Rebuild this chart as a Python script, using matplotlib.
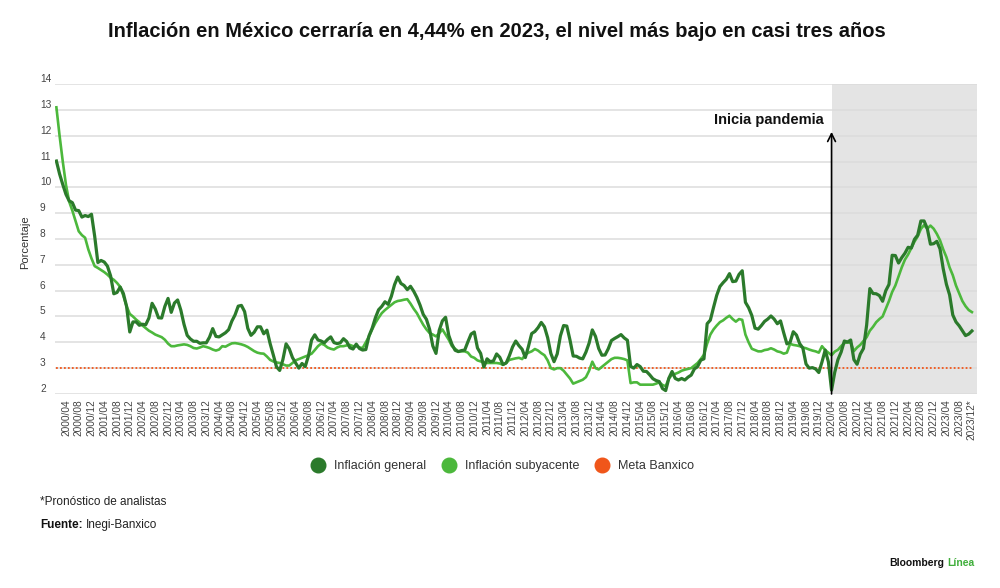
import numpy as np
import pandas as pd
import matplotlib.pyplot as plt
from matplotlib.lines import Line2D

plt.rcParams['font.family'] = ['Liberation Sans', 'DejaVu Sans']

# inflación general anual (%), mensual 2000/01 - 2023/12
general = [
    11.02, 10.52, 10.11, 9.73, 9.48, 9.41, 9.12, 9.10, 8.85, 8.91, 8.87, 8.96,
    8.11, 7.09, 7.17, 7.11, 6.95, 6.57, 5.88, 5.93, 6.14, 5.89, 5.39, 4.40,
    4.79, 4.79, 4.66, 4.70, 4.68, 4.94, 5.51, 5.29, 4.95, 4.94, 5.39, 5.70,
    5.16, 5.52, 5.64, 5.25, 4.70, 4.27, 4.13, 4.04, 4.04, 3.96, 3.98, 3.98,
    4.20, 4.53, 4.23, 4.21, 4.29, 4.37, 4.49, 4.82, 5.06, 5.40, 5.43, 5.19,
    4.54, 4.27, 4.39, 4.60, 4.60, 4.33, 4.47, 3.95, 3.51, 3.05, 2.91, 3.33,
    3.94, 3.75, 3.41, 3.20, 3.00, 3.18, 3.06, 3.47, 4.09, 4.29, 4.09, 4.05,
    3.98, 4.11, 4.21, 3.99, 3.95, 3.98, 4.14, 4.03, 3.79, 3.74, 3.93, 3.76,
    3.70, 3.72, 4.25, 4.55, 4.95, 5.26, 5.39, 5.57, 5.47, 5.78, 6.23, 6.53,
    6.28, 6.20, 6.04, 6.17, 5.98, 5.74, 5.44, 5.08, 4.89, 4.50, 3.86, 3.57,
    4.46, 4.83, 4.97, 4.27, 3.92, 3.69, 3.64, 3.68, 3.70, 4.02, 4.32, 4.40,
    3.78, 3.57, 3.04, 3.36, 3.25, 3.28, 3.55, 3.42, 3.14, 3.20, 3.48, 3.82,
    4.05, 3.87, 3.73, 3.41, 3.85, 4.34, 4.42, 4.57, 4.77, 4.60, 4.18, 3.57,
    3.25, 3.55, 4.25, 4.65, 4.63, 4.09, 3.47, 3.46, 3.39, 3.36, 3.62, 3.97,
    4.48, 4.23, 3.76, 3.50, 3.51, 3.75, 4.07, 4.15, 4.22, 4.30, 4.17, 4.08,
    3.07, 3.00, 3.14, 3.06, 2.88, 2.87, 2.74, 2.59, 2.52, 2.48, 2.21, 2.13,
    2.61, 2.87, 2.60, 2.54, 2.60, 2.54, 2.65, 2.73, 2.97, 3.06, 3.31, 3.36,
    4.72, 4.86, 5.35, 5.82, 6.16, 6.31, 6.44, 6.66, 6.35, 6.37, 6.63, 6.77,
    5.55, 5.34, 5.04, 4.55, 4.51, 4.65, 4.81, 4.90, 5.02, 4.90, 4.72, 4.83,
    4.37, 3.94, 4.00, 4.41, 4.28, 3.95, 3.78, 3.16, 3.00, 3.02, 2.97, 2.83,
    3.24, 3.70, 3.25, 2.15, 2.84, 3.33, 3.62, 4.05, 4.01, 4.09, 3.33, 3.15,
    3.54, 3.76, 4.67, 6.08, 5.89, 5.88, 5.81, 5.59, 6.00, 6.24, 7.37, 7.36,
    7.07, 7.28, 7.45, 7.68, 7.65, 7.99, 8.15, 8.70, 8.70, 8.41, 7.80, 7.82,
    7.91, 7.62, 6.85, 6.25, 5.84, 5.06, 4.79, 4.64, 4.45, 4.26, 4.32, 4.44,
]

# inflación subyacente anual (%)
subyacente = [
    13.10, 12.00, 11.00, 10.10, 9.45, 9.10, 8.70, 8.30, 8.15, 8.05, 7.60, 7.25,
    6.95, 6.88, 6.80, 6.72, 6.62, 6.50, 6.42, 6.30, 6.15, 5.80, 5.40, 5.10,
    5.00, 4.88, 4.78, 4.65, 4.55, 4.45, 4.38, 4.30, 4.25, 4.20, 4.10, 3.95,
    3.85, 3.85, 3.88, 3.90, 3.92, 3.90, 3.85, 3.78, 3.76, 3.80, 3.85, 3.82,
    3.78, 3.72, 3.68, 3.72, 3.85, 3.83, 3.90, 3.96, 3.97, 3.95, 3.92, 3.88,
    3.82, 3.74, 3.66, 3.60, 3.57, 3.56, 3.45, 3.32, 3.26, 3.22, 3.20, 3.15,
    3.10, 3.10, 3.20, 3.30, 3.35, 3.40, 3.45, 3.50, 3.56, 3.70, 3.85, 3.95,
    3.90, 3.80, 3.75, 3.72, 3.80, 3.85, 3.85, 3.88, 3.90, 3.85, 3.85, 3.80,
    3.78, 4.00, 4.23, 4.50, 4.75, 4.95, 5.13, 5.25, 5.35, 5.45, 5.55, 5.60,
    5.62, 5.65, 5.67, 5.50, 5.30, 5.13, 4.90, 4.68, 4.50, 4.36, 4.30, 4.23,
    4.35, 4.50, 4.30, 4.10, 3.85, 3.75, 3.65, 3.65, 3.65, 3.60, 3.45, 3.40,
    3.30, 3.26, 3.22, 3.20, 3.20, 3.20, 3.20, 3.18, 3.13, 3.20, 3.32, 3.35,
    3.38, 3.40, 3.35, 3.52, 3.60, 3.65, 3.74, 3.68, 3.58, 3.50, 3.30, 3.00,
    2.95, 3.00, 3.00, 2.90, 2.75, 2.60, 2.40, 2.45, 2.50, 2.55, 2.65, 2.90,
    3.25, 3.00, 2.95, 3.05, 3.15, 3.25, 3.35, 3.40, 3.40, 3.38, 3.35, 3.30,
    2.42, 2.45, 2.45, 2.36, 2.36, 2.36, 2.36, 2.36, 2.40, 2.45, 2.35, 2.30,
    2.60, 2.74, 2.78, 2.83, 2.90, 2.94, 2.97, 3.00, 3.10, 3.20, 3.35, 3.52,
    3.95, 4.30, 4.50, 4.65, 4.78, 4.85, 4.95, 5.03, 4.90, 4.80, 4.90, 4.87,
    4.30, 4.00, 3.75, 3.70, 3.65, 3.65, 3.70, 3.72, 3.77, 3.72, 3.65, 3.62,
    3.56, 3.60, 3.94, 3.90, 3.88, 3.85, 3.80, 3.77, 3.72, 3.68, 3.65, 3.60,
    3.85, 3.70, 3.60, 3.50, 3.64, 3.71, 3.85, 3.97, 4.00, 3.98, 3.66, 3.80,
    3.90, 4.05, 4.20, 4.45, 4.60, 4.78, 4.90, 5.00, 5.30, 5.60, 5.95, 6.20,
    6.55, 6.90, 7.20, 7.40, 7.65, 7.90, 8.10, 8.39, 8.54, 8.40, 8.52, 8.40,
    8.20, 7.95, 7.60, 7.30, 6.90, 6.60, 6.20, 5.90, 5.60, 5.40, 5.25, 5.17,
]

meta_banxico = 3.0
meses = pd.date_range("2000-01", periods=len(general), freq="MS")
etiquetas = [m.strftime("%Y/%m") for m in meses]
etiquetas[-1] = etiquetas[-1] + "*"
inicio_pandemia = "2020/04"

c_general = "#2b7a2b"
c_sub = "#4cb83c"
c_meta = "#f0561a"

x = np.arange(len(general))
fig = plt.figure(figsize=(10, 5.88), dpi=100)
ax = fig.add_axes([0.0548, 0.33, 0.9219, 0.527])

xp = etiquetas.index(inicio_pandemia)
ax.axvspan(xp, len(general) + 0.5, color="#e4e4e4", zorder=0, lw=0)
for v in range(2, 15):
    ax.axhline(v, color="#dcdcdc", lw=1.1, zorder=1)

ax.plot([x[0], x[-1]], [meta_banxico, meta_banxico], color=c_meta, lw=1.3,
        ls=(0, (1, 1.2)), zorder=2)
ax.plot(x, subyacente, color=c_sub, lw=1.9, zorder=3)
ax.plot(x, general, color=c_general, lw=2.3, zorder=4)

ax.annotate("", xy=(xp, 12.15), xytext=(xp, 2),
            arrowprops=dict(arrowstyle="->", color="black", lw=1.2,
                            mutation_scale=14, shrinkA=0, shrinkB=0),
            zorder=5)
ax.text(xp - 2.5, 12.6, "Inicia pandemia", ha="right", va="center",
        fontsize=10.5, fontweight="bold", color="#111111")

ax.set_xlim(-0.5, len(general) + 0.5)
ax.set_ylim(2, 14)
ticks = list(range(3, len(general), 4))
ax.set_xticks(ticks)
ax.set_xticklabels([etiquetas[t] for t in ticks], rotation=90, fontsize=7.3,
                   color="#444444")
ax.set_yticks(range(2, 15))
ax.set_yticklabels([str(v) for v in range(2, 15)], fontsize=7.3, color="#444444")
for lbl in ax.get_yticklabels():
    lbl.set_ha("left")
    lbl.set_va("bottom")
ax.tick_params(axis="y", length=0, pad=10.7)
ax.tick_params(axis="x", length=0, pad=4)
for s in ax.spines.values():
    s.set_visible(False)
ax.set_ylabel("Porcentaje", fontsize=8, color="#333333", labelpad=2)
ax.yaxis.set_label_coords(-0.027, 0.49)

fig.text(0.497, 0.947, "Inflación en México cerraría en 4,44% en 2023, el nivel más bajo en casi tres años",
         ha="center", va="center", fontsize=14.5, fontweight="bold", color="#111111")

handles = [Line2D([], [], ls="", marker="o", ms=10.5, color=c) for c in (c_general, c_sub, c_meta)]
fig.legend(handles, ["Inflación general", "Inflación subyacente", "Meta Banxico"],
           loc="center", bbox_to_anchor=(0.5, 1 - 466 / 588), ncol=3, frameon=False,
           fontsize=9, handletextpad=0.3, columnspacing=0.8, labelcolor="#333333")

fig.text(0.04, 1 - 502 / 588, "*Pronóstico de analistas", fontsize=8.5,
         color="#222222", va="center")
t = fig.text(0.04, 1 - 525 / 588, "Fuente:", fontsize=8.5, fontweight="bold",
             color="#111111", va="center")
fig.canvas.draw()
bb = t.get_window_extent().transformed(fig.transFigure.inverted())
fig.text(bb.x1 + 0.003, 1 - 525 / 588, "Inegi-Banxico", fontsize=8.5,
         color="#222222", va="center")

t2 = fig.text(0.975, 1 - 563 / 588, "Línea", fontsize=7.5, fontweight="bold",
              color="#3fae3a", ha="right", va="center")
fig.canvas.draw()
bb2 = t2.get_window_extent().transformed(fig.transFigure.inverted())
fig.text(bb2.x0 - 0.003, 1 - 563 / 588, "Bloomberg", fontsize=7.5, fontweight="bold",
         color="#111111", ha="right", va="center")

fig.savefig("out.png", dpi=100, facecolor="white")
